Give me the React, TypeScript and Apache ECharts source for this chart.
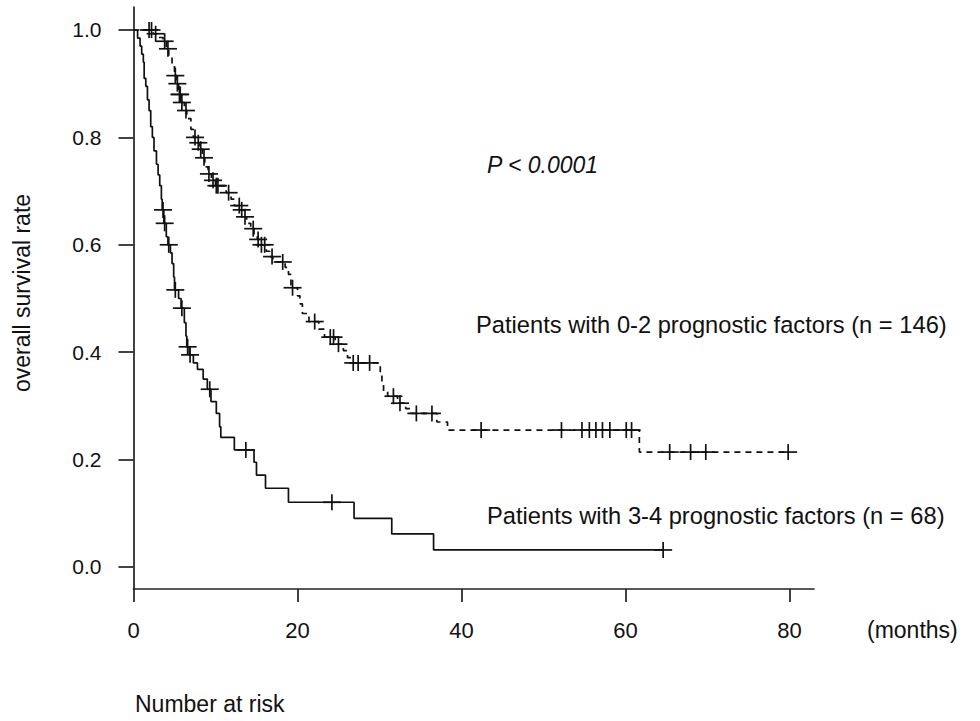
import React, { useEffect, useRef } from "react";
import * as echarts from "echarts";

// Patients with 0-2 prognostic factors (n = 146) — dashed curve
const lowRiskMonths = [0, 2.4, 3.0, 3.6, 4.0, 4.3, 4.7, 5.0, 5.3, 5.5, 5.8, 6.2, 6.5, 7.0, 7.3, 7.7, 8.0, 8.4, 8.7, 9.1, 9.5, 10.0, 11.3, 11.9, 12.3, 13.0, 13.5, 13.8, 14.3, 14.7, 15.1, 15.5, 16.2, 16.6, 17.0, 18.5, 18.9, 19.2, 20.0, 20.3, 20.6, 21.4, 22.6, 23.3, 24.6, 25.6, 26.1, 26.6, 30.1, 30.3, 30.5, 31.0, 32.2, 33.2, 33.8, 37.0, 38.3, 61.7, 79.9];
const lowRiskSurvival = [1, 0.993, 0.986, 0.979, 0.965, 0.951, 0.937, 0.915, 0.9, 0.88, 0.865, 0.85, 0.835, 0.815, 0.8, 0.79, 0.778, 0.762, 0.745, 0.732, 0.72, 0.71, 0.697, 0.685, 0.673, 0.665, 0.652, 0.64, 0.63, 0.62, 0.61, 0.6, 0.588, 0.578, 0.568, 0.558, 0.545, 0.52, 0.505, 0.49, 0.472, 0.457, 0.443, 0.428, 0.415, 0.403, 0.39, 0.38, 0.36, 0.34, 0.327, 0.318, 0.305, 0.295, 0.286, 0.27, 0.255, 0.214, 0.214];
const lowRiskCensored = [1.9, 2.2, 2.7, 3.8, 4.2, 5.1, 5.35, 5.6, 5.7, 5.9, 6.4, 7.5, 7.9, 8.2, 8.6, 9.2, 9.7, 10.1, 10.3, 11.6, 12.9, 13.2, 13.6, 14.6, 15.2, 15.6, 16.0, 16.9, 18.2, 19.4, 22.1, 24.0, 24.4, 25.0, 26.8, 27.4, 28.8, 31.7, 32.5, 34.5, 36.4, 42.4, 52.2, 54.7, 55.6, 56.4, 57.2, 58.1, 60.1, 60.75, 65.4, 67.95, 69.8, 79.85];

// Patients with 3-4 prognostic factors (n = 68) — solid curve
const highRiskMonths = [0, 0.5, 0.8, 1.0, 1.2, 1.3, 1.5, 1.7, 1.9, 2.1, 2.3, 2.5, 2.8, 3.0, 3.2, 3.4, 3.5, 3.7, 4.0, 4.2, 4.5, 4.7, 4.9, 5.0, 5.5, 5.8, 6.2, 6.4, 6.5, 6.8, 7.3, 7.8, 8.5, 9.0, 9.45, 10.1, 10.5, 10.65, 12.3, 14.7, 15.0, 16.1, 18.9, 26.9, 31.5, 36.6, 64.6];
const highRiskSurvival = [1, 0.985, 0.97, 0.955, 0.94, 0.91, 0.895, 0.87, 0.85, 0.82, 0.8, 0.775, 0.75, 0.73, 0.71, 0.685, 0.665, 0.64, 0.615, 0.6, 0.585, 0.565, 0.54, 0.516, 0.5, 0.482, 0.455, 0.43, 0.41, 0.395, 0.38, 0.368, 0.35, 0.331, 0.308, 0.286, 0.261, 0.2415, 0.218, 0.195, 0.171, 0.1466, 0.1205, 0.0907, 0.0615, 0.0317, 0.0317];
const highRiskCensored = [3.6, 3.8, 4.3, 5.1, 5.9, 6.6, 6.9, 9.3, 13.7, 24.2, 64.6];

const xTicks = [0, 20, 40, 60, 80];
const yTicks = [0, 0.2, 0.4, 0.6, 0.8, 1.0];

const FONT = '"Liberation Sans", Arial, Helvetica, sans-serif';
const INK = "#111111";

function zip(ms: number[], ss: number[]) {
  return ms.map((m, i) => [m, ss[i]]);
}
function survivalAt(ms: number[], ss: number[], t: number) {
  let s = ss[0];
  for (let i = 0; i < ms.length; i++) {
    if (ms[i] <= t) s = ss[i];
  }
  return s;
}
function censorData(times: number[], ms: number[], ss: number[]) {
  return times.map((t) => [t, survivalAt(ms, ss, t)]);
}

const renderCross = (params: any, api: any) => {
  const p = api.coord([api.value(0), api.value(1)]);
  const style = { stroke: INK, lineWidth: 1.7 };
  return {
    type: "group",
    children: [
      { type: "line", shape: { x1: p[0] - 9, y1: p[1], x2: p[0] + 9, y2: p[1] }, style },
      { type: "line", shape: { x1: p[0], y1: p[1] - 8, x2: p[0], y2: p[1] + 8 }, style },
    ],
  };
};

export default function App() {
  const ref = useRef<HTMLDivElement>(null);
  useEffect(() => {
    if (!ref.current) return;
    const chart = echarts.init(ref.current, undefined, { renderer: "svg" });
    chart.setOption({
      animation: false,
      backgroundColor: "#ffffff",
      grid: { left: 133.5, right: 166, top: 7, bottom: 132, containLabel: false },
      xAxis: {
        type: "value",
        min: 0,
        max: 83,
        splitLine: { show: false },
        axisLine: { show: true, onZero: false, lineStyle: { color: "#222", width: 1.7 } },
        axisTick: { show: true, length: 13, customValues: xTicks, lineStyle: { color: "#222", width: 1.7 } },
        axisLabel: {
          customValues: xTicks,
          margin: 30,
          fontSize: 22,
          fontFamily: FONT,
          color: INK,
        },
      },
      yAxis: {
        type: "value",
        min: -0.041,
        max: 1.0428,
        splitLine: { show: false },
        axisLine: { show: true, onZero: false, lineStyle: { color: "#222", width: 1.7 } },
        axisTick: { show: true, length: 15, customValues: yTicks, lineStyle: { color: "#222", width: 1.7 } },
        axisLabel: {
          customValues: yTicks,
          margin: 32,
          fontSize: 21,
          fontFamily: FONT,
          color: INK,
          formatter: (v: number) => v.toFixed(1),
        },
      },
      series: [
        {
          type: "line",
          step: "end",
          showSymbol: false,
          data: zip(lowRiskMonths, lowRiskSurvival),
          lineStyle: { color: INK, width: 1.7, type: [6, 5] },
          z: 3,
        },
        {
          type: "line",
          step: "end",
          showSymbol: false,
          data: zip(highRiskMonths, highRiskSurvival),
          lineStyle: { color: INK, width: 1.7, type: "solid" },
          z: 3,
        },
        {
          type: "custom",
          renderItem: renderCross,
          data: censorData(lowRiskCensored, lowRiskMonths, lowRiskSurvival),
          z: 4,
        },
        {
          type: "custom",
          renderItem: renderCross,
          data: censorData(highRiskCensored, highRiskMonths, highRiskSurvival),
          z: 4,
        },
      ],
      graphic: [
        {
          type: "text",
          x: 22,
          y: 293,
          rotation: Math.PI / 2,
          style: {
            text: "overall survival rate",
            font: `23px ${FONT}`,
            fill: INK,
            align: "center",
            verticalAlign: "middle",
          },
        },
        {
          type: "text",
          x: 487,
          y: 165,
          style: {
            text: "P < 0.0001",
            font: `italic 23px ${FONT}`,
            fill: INK,
            align: "left",
            verticalAlign: "middle",
          },
        },
        {
          type: "text",
          x: 476,
          y: 325,
          style: {
            text: "Patients with 0-2 prognostic factors (n = 146)",
            font: `23.7px ${FONT}`,
            fill: INK,
            align: "left",
            verticalAlign: "middle",
          },
        },
        {
          type: "text",
          x: 487,
          y: 516,
          style: {
            text: "Patients with 3-4 prognostic factors (n = 68)",
            font: `23.7px ${FONT}`,
            fill: INK,
            align: "left",
            verticalAlign: "middle",
          },
        },
        {
          type: "text",
          x: 867,
          y: 630,
          style: {
            text: "(months)",
            font: `23px ${FONT}`,
            fill: INK,
            align: "left",
            verticalAlign: "middle",
          },
        },
        {
          type: "text",
          x: 135,
          y: 704,
          style: {
            text: "Number at risk",
            font: `23px ${FONT}`,
            fill: INK,
            align: "left",
            verticalAlign: "middle",
          },
        },
      ],
    });
    return () => chart.dispose();
  }, []);
  return <div ref={ref} style={{ width: 980, height: 721, position: "absolute", left: 0, top: 0 }} />;
}
